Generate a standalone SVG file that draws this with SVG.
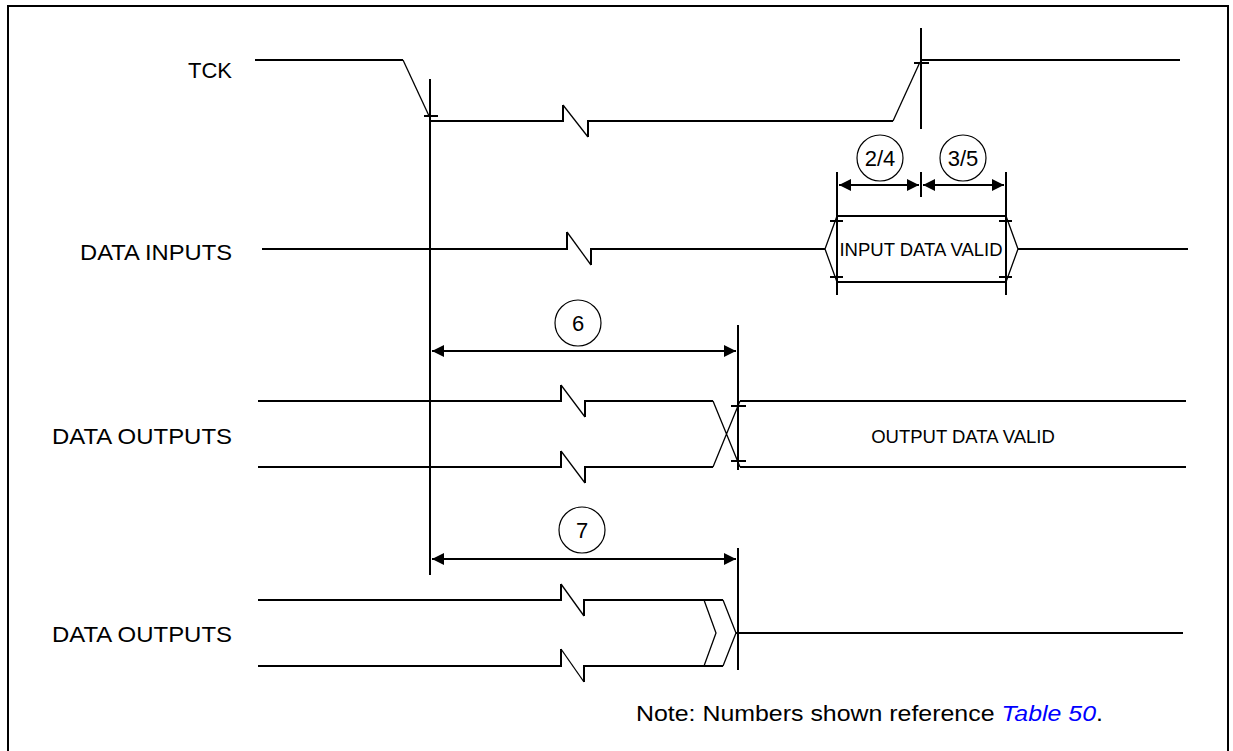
<svg xmlns="http://www.w3.org/2000/svg" width="1233" height="751" viewBox="0 0 1233 751">
<style>
.w{fill:none;stroke:#000;stroke-width:2}
.t{fill:none;stroke:#000;stroke-width:1.3}
.lbl{font-family:"Liberation Sans",Arial,sans-serif;font-size:22px;fill:#000}
.sm{font-family:"Liberation Sans",Arial,sans-serif;font-size:18.5px;fill:#000}
.num{font-family:"Liberation Sans",Arial,sans-serif;font-size:22px;fill:#000;text-anchor:middle}
.c{fill:#fff;stroke:#000;stroke-width:1.2}
</style>
<defs>
<marker id="ah" viewBox="0 0 12 12" refX="12" refY="6" markerWidth="12" markerHeight="12" markerUnits="userSpaceOnUse" orient="auto-start-reverse">
<path d="M0,0 L12,6 L0,12 Z" fill="#000"/>
</marker>
</defs>
<rect x="0" y="0" width="1233" height="751" fill="#fff"/>
<rect x="8" y="6" width="1220" height="760" fill="none" stroke="#000" stroke-width="2"/>

<g id="labels">
<text class="lbl" x="232" y="78" text-anchor="end">TCK</text>
<text class="lbl" x="80" y="260" textLength="152" lengthAdjust="spacingAndGlyphs">DATA INPUTS</text>
<text class="lbl" x="52" y="444" textLength="180" lengthAdjust="spacingAndGlyphs">DATA OUTPUTS</text>
<text class="lbl" x="52" y="642" textLength="180" lengthAdjust="spacingAndGlyphs">DATA OUTPUTS</text>
</g>

<g id="tck">
<path class="w" d="M255,60 H403"/>
<path class="t" d="M403,60 L430,118"/>
<path class="w" d="M430,121 H563 V105"/>
<path class="t" d="M563,105 L588,137"/>
<path class="w" d="M588,137 V121 H893"/>
<path class="t" d="M893,121 L920,62"/>
<path class="w" d="M920,60 H1180"/>
<path class="w" d="M424,116 H438 M914,63 H929"/>
</g>

<g id="data-inputs">
<path class="w" d="M262,249 H567 V232"/>
<path class="t" d="M567,232 L591,265"/>
<path class="w" d="M591,265 V249 H825"/>
<path class="t" d="M837,216 L825,249 L837,282"/>
<path class="w" d="M837,216 H1006 M837,282 H1006"/>
<path class="t" d="M1006,216 L1018,249 L1006,282"/>
<path class="w" d="M1018,249 H1188"/>
<path class="w" d="M830,221 H843 M830,277 H843 M999,221 H1012 M999,277 H1012"/>
<text class="sm" x="921" y="256" text-anchor="middle">INPUT DATA VALID</text>
</g>

<g id="data-outputs-1">
<path class="w" d="M258,401 H561 V385"/>
<path class="t" d="M561,385 L585,417"/>
<path class="w" d="M585,417 V401 H713"/>
<path class="w" d="M258,467 H561 V451"/>
<path class="t" d="M561,451 L585,483"/>
<path class="w" d="M585,483 V467 H713"/>
<path class="t" d="M713,401 L740,467 M713,467 L740,401"/>
<path class="w" d="M740,401 H1186 M740,467 H1186"/>
<path class="w" d="M731,406 H746 M731,461 H746"/>
<text class="sm" x="963" y="443" text-anchor="middle">OUTPUT DATA VALID</text>
</g>

<g id="data-outputs-2">
<path class="w" d="M258,600 H561 V584"/>
<path class="t" d="M561,584 L584,616"/>
<path class="w" d="M584,616 V600 H723"/>
<path class="w" d="M258,666 H561 V649"/>
<path class="t" d="M561,649 L584,682"/>
<path class="w" d="M584,682 V666 H723"/>
<path class="t" d="M723,600 L736,633 L723,666 M704,600 L716,633 L704,666"/>
<path class="w" d="M736,633 H1183"/>
</g>

<g id="connectors">
<path class="w" d="M430,79 V575"/>
<path class="w" d="M921,28 V129"/>
<path class="w" d="M837,172 V295 M921,172 V197 M1006,172 V295"/>
<path class="w" d="M738,325 V470"/>
<path class="w" d="M738,548 V670"/>
<path class="w" d="M839,185 H919" marker-start="url(#ah)" marker-end="url(#ah)"/>
<path class="w" d="M923,185 H1004" marker-start="url(#ah)" marker-end="url(#ah)"/>
<path class="w" d="M432,351 H736" marker-start="url(#ah)" marker-end="url(#ah)"/>
<path class="w" d="M432,559 H736" marker-start="url(#ah)" marker-end="url(#ah)"/>
</g>

<g id="marker-24">
<circle class="c" cx="880" cy="158" r="23"/>
<text class="num" x="880" y="166">2/4</text>
</g>
<g id="marker-35">
<circle class="c" cx="963" cy="158" r="23"/>
<text class="num" x="963" y="166">3/5</text>
</g>
<g id="marker-6">
<circle class="c" cx="578" cy="323" r="23"/>
<text class="num" x="578" y="331">6</text>
</g>
<g id="marker-7">
<circle class="c" cx="582" cy="530" r="23"/>
<text class="num" x="582" y="538">7</text>
</g>

<g id="note">
<text class="lbl" x="636" y="721" textLength="467" lengthAdjust="spacingAndGlyphs">Note: Numbers shown reference <tspan fill="#0000ff" font-style="italic">Table 50</tspan>.</text>
</g>
</svg>
